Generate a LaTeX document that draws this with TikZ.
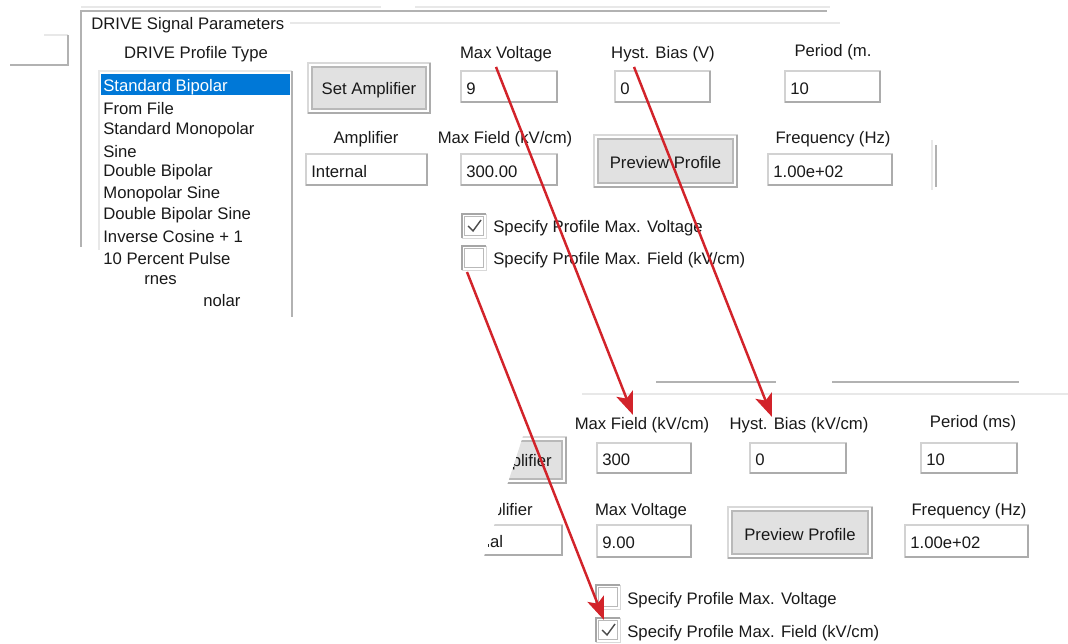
\documentclass[tikz,border=0pt]{standalone}
\usepackage{fontspec}
\setmainfont{Liberation Sans}
\usetikzlibrary{arrows.meta,calc}
\definecolor{selblue}{HTML}{0078D7}
\definecolor{btngray}{HTML}{E1E1E1}
\definecolor{arrred}{HTML}{D2232A}
\begin{document}
\begin{tikzpicture}[x=0.02cm,y=-0.02cm,font=\fontsize{9.5}{11}\selectfont,text=black!90,
  lbl/.style={inner sep=0pt,yshift=-1.1pt},
  item/.style={anchor=west,inner sep=0pt,yshift=-1.1pt},
  tbox/.style={draw=gray!35,fill=white,line width=0.6pt},
  tshade/.style={draw=gray!65,line width=1.1pt},
  btnout/.style={draw=gray!30,fill=white,line width=0.8pt},
  btnin/.style={draw=gray!55,fill=btngray,line width=0.6pt},
  cbox/.style={draw=gray!30,fill=white,minimum size=0.48cm,inner sep=0pt},
  frame/.style={draw=gray!60,line width=0.9pt},
  faint/.style={draw=gray!18,line width=0.9pt},
  redarrow/.style={draw=arrred,line width=1.4pt,-{Stealth[length=13pt,width=10pt,inset=3pt]}}]
\useasboundingbox (0,0) rectangle (1068,644);
\draw[faint] (44,35) -- (68,35);
\draw[frame] (10,65) -- (68,65) -- (68,35);
\draw[faint] (81,7) -- (381,7) (415,7) -- (830,7);
\draw[frame] (81,247) -- (81,11) -- (827,11);
\draw[faint] (290,23) -- (840,23);
\node[item] (ttl) at (91,23) {DRIVE Signal Parameters};
\node[lbl] (lpt) at (196,52) {DRIVE Profile Type};
\draw[faint] (99,250) -- (99,71) -- (292,71);
\draw[frame] (292,71) -- (292,317);
\fill[selblue] (101,74) rectangle (290,95);
\node[item,text=white] (it0) at (103,85) {Standard Bipolar};
\foreach \n [count=\i from 1] in {From File,Standard Monopolar,Sine,Double Bipolar,Monopolar Sine,Double Bipolar Sine,Inverse Cosine + 1,10 Percent Pulse}
  \node[item] (it\i) at (103,{85+21.4*\i}) {\n};
\node[item] (it9) at (144,278) {rnes};
\node[item] (it10) at (203,299) {nolar};
\foreach \i/\xa/\ya/\xb/\yb/\t in {0/308/63/430/113/Set Amplifier,1/594/135/737/187/Preview Profile,3/728/507/872/558/Preview Profile}{
  \draw[btnout] (\xa,\ya) rectangle (\xb,\yb);
  \draw[btnin] (\xa+4,\ya+4) rectangle (\xb-4,\yb-4);
  \draw[tshade] (\xa,\yb) -- (\xb,\yb) -- (\xb,\ya);
  \node[lbl] (btn\i) at ({(\xa+\xb)/2},{(\ya+\yb)/2}) {\t};
}
\foreach \i/\xa/\ya/\xb/\yb/\t in {0/461/71/557/102/9,1/615/71/710/102/0,2/785/71/880/102/10,3/306/154/427/185/Internal,4/461/154/557/185/300.00,5/768/154/892/185/1.00e+02,6/597/443/691/473/300,7/750/443/846/473/0,8/921/443/1017/473/10,9/597/525/691/557/9.00,10/905/525/1028/557/1.00e+02}{
  \draw[tbox] (\xa,\ya) rectangle (\xb,\yb);
  \draw[tshade] (\xa,\yb) -- (\xb,\yb) -- (\xb,\ya);
  \node[item] (tb\i) at (\xa+5,{(\ya+\yb)/2}) {\t};
}
\foreach \i/\x/\y/\t in {0/506/52/Max Voltage,1/663/52/Hyst. Bias (V),2/833/50/Period (m.,3/366/137/Amplifier,4/505/137/{Max Field (kV/cm)},5/833/137/Frequency (Hz),6/642/423/{Max Field (kV/cm)},7/799/423/{Hyst. Bias (kV/cm)},8/973/421/Period (ms),9/641/509/Max Voltage,10/969/509/Frequency (Hz)}
  \node[lbl] (lb\i) at (\x,\y) {\t};
\draw[frame,line width=1.2pt] (936,145) -- (936,187);
\draw[faint] (932,140) -- (932,190);
\draw[frame,line width=1.3pt] (656,382) -- (776,382) (832,382) -- (1019,382);
\draw[faint] (582,394) -- (1068,394);
\begin{scope}
\clip (525,430) -- (700,430) -- (700,560) -- (483,560) -- cycle;
\draw[btnout] (440,437) rectangle (566,483);
\draw[btnin] (440,441) rectangle (562,479);
\draw[tshade] (440,483) -- (566,483) -- (566,437);
\node[item,anchor=east] (btn2) at (552,460) {Set Amplifier};
\node[item,anchor=east] (lb11) at (533,509) {Amplifier};
\draw[tbox] (437,525) rectangle (562,555);
\draw[tshade] (437,555) -- (562,555) -- (562,525);
\node[item] (tb11) at (447,540) {Internal};
\end{scope}
\foreach \i/\x/\y in {0/474/226,1/474/258,2/608/597,3/608/630}{
  \node[cbox] (cb\i) at (\x,\y) {};
  \draw[gray!55] ($(cb\i.south west)+(3,-3)$) rectangle ($(cb\i.north east)+(-3,3)$);
  \draw[gray!70,line width=1.2pt] (cb\i.south west) -- (cb\i.north west) -- (cb\i.north east);
}
\foreach \c in {cb0,cb3}
  \draw[black!70,line width=0.8pt] ($(\c)+(-6,0)$) -- ($(\c)+(-1,5)$) -- ($(\c)+(7,-6)$);
\foreach \i/\x/\y/\t in {0/493/226/Specify Profile Max. Voltage,1/493/258/{Specify Profile Max. Field (kV/cm)},2/627/598/Specify Profile Max. Voltage,3/627/631/{Specify Profile Max. Field (kV/cm)}}
  \node[item] (ct\i) at (\x,\y) {\t};
\draw[redarrow] ($(lb0)+(-10,13)$) -- ($(lb6)+(-9,-10)$);
\draw[redarrow] ($(lb1)+(-29,13)$) -- ($(lb7)+(-27,-8)$);
\draw[redarrow] ($(cb1)+(-7,14)$) -- ($(cb3)+(-4,-10)$);
\end{tikzpicture}
\end{document}
